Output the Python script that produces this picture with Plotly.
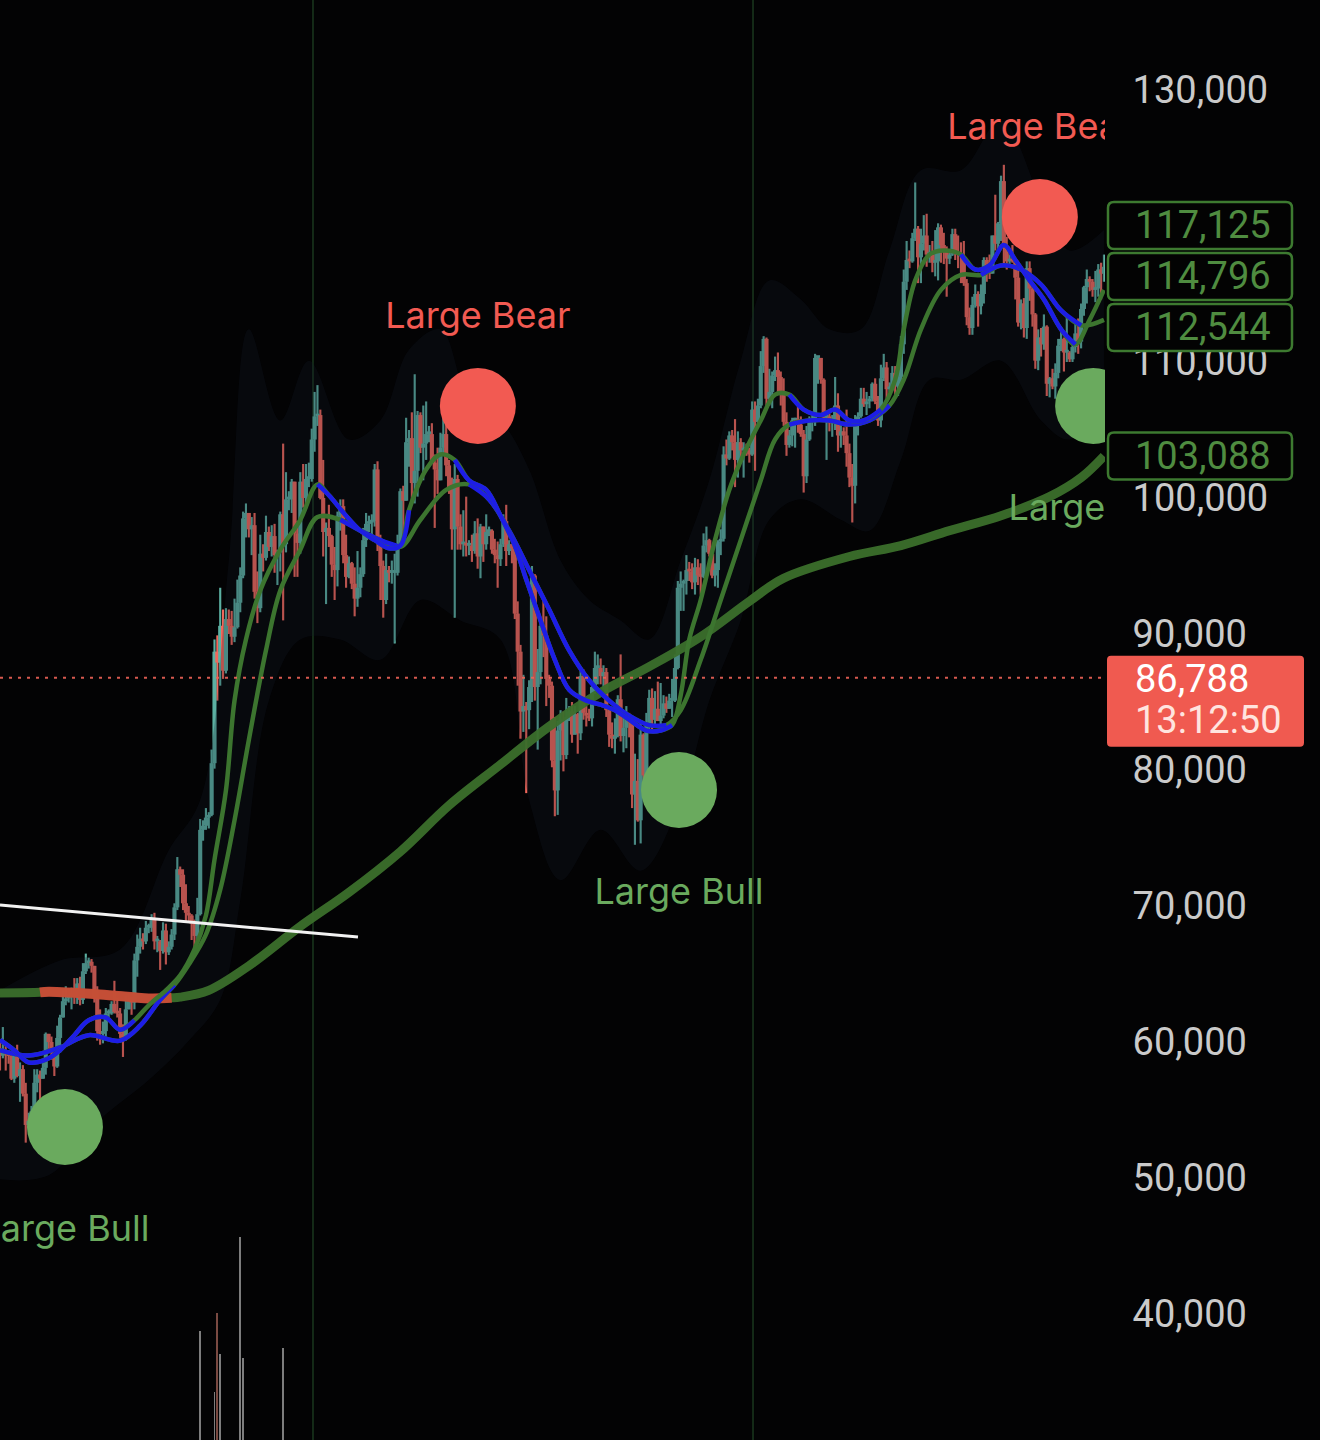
import numpy as np
import pandas as pd
import plotly.graph_objects as go

# ---------------- data (prices in thousands USD) ----------------
START = "2024-08-28"
FIRST_OPEN_K = 59.4

close_k = [
    59.0, 59.4, 59.1, 58.97,  # Aug 2024 (28-31)
    57.3, 59.1, 57.5, 58.0, 56.2, 53.9, 54.2, 54.9, 57.0, 57.6, 57.3, 58.1, 60.6, 60.0, 59.2, 58.2, 60.3, 61.8, 63.0, 63.2,
    63.4, 63.6, 63.3, 64.3, 63.1, 65.2, 65.8, 65.9, 65.6, 63.3,  # Sep
    60.8, 60.6, 60.8, 62.1, 62.1, 62.8, 62.2, 62.1, 60.6, 60.3, 62.4, 63.2, 62.9, 66.0, 67.0, 67.6, 67.4, 68.4, 68.4, 69.0,
    67.4, 67.4, 66.7, 68.2, 66.6, 67.0, 67.9, 69.9, 72.7, 72.3, 70.2,  # Oct
    69.5, 69.3, 68.7, 67.8, 69.4, 75.6, 75.9, 76.5, 76.7, 80.5, 88.7, 87.9, 90.6, 87.3, 91.1, 90.6, 89.8, 90.5, 92.3, 94.3,
    98.5, 98.9, 97.7, 98.0, 93.1, 91.9, 95.9, 95.6, 97.5, 96.4,  # Nov
    97.2, 95.8, 96.0, 98.8, 96.6, 99.9, 99.9, 101.2, 97.4, 96.7, 101.2, 100.0, 101.4, 101.4, 104.3, 106.0, 106.1, 100.0, 97.5, 97.8,
    97.2, 95.1, 94.7, 98.7, 99.4, 95.8, 94.2, 95.2, 93.7, 92.6, 93.4,  # Dec
    94.4, 96.9, 98.1, 98.2, 98.3, 102.1, 96.9, 95.0, 92.5, 94.7, 94.5, 94.5, 94.5, 96.5, 100.5, 99.8, 104.1, 104.4, 101.1, 102.0,
    106.1, 103.7, 104.0, 104.7, 104.7, 102.6, 102.1, 101.3, 103.7, 104.7, 102.4,  # Jan 2025
    100.6, 97.7, 101.4, 97.9, 96.6, 96.6, 96.5, 96.5, 96.1, 97.4, 95.7, 97.9, 96.6, 97.5, 97.6, 96.2, 95.8, 95.5, 96.6, 98.3,
    96.1, 96.6, 96.3, 91.5, 88.7, 84.3, 84.7, 84.4,  # Feb
    86.1, 94.3, 86.1, 87.2, 90.6, 89.9, 86.7, 86.2, 80.7, 78.5, 82.9, 83.7, 81.1, 83.9, 84.3, 82.6, 84.1, 82.7, 86.9, 84.2,
    84.0, 83.8, 86.1, 87.5, 87.5, 86.9, 87.2, 84.4, 82.6, 82.3, 82.5,  # Mar
    85.2, 82.5, 83.1, 83.8, 83.5, 78.2, 79.2, 76.3, 82.6, 79.6, 83.4, 85.3, 83.7, 84.5, 83.6, 84.0, 84.9, 84.5, 85.1, 85.1,
    87.5, 93.4, 93.7, 93.9, 94.7, 94.6, 93.8, 94.9, 94.3, 94.2,  # Apr
    96.5, 96.9, 95.9, 94.3, 94.7, 96.8, 97.0, 103.2, 102.9, 104.6, 104.1, 102.8, 104.1, 103.5, 103.7, 103.5, 103.2, 106.5, 105.6, 106.8,
    109.7, 111.7, 107.3, 107.8, 109.0, 109.4, 108.9, 107.8, 105.6, 103.9, 104.6,  # May
    105.7, 105.8, 105.4, 104.7, 101.6, 104.3, 105.6, 105.7, 110.3, 110.3, 108.7, 105.9, 106.0, 105.5, 105.6, 106.8, 104.6, 104.9, 104.6, 103.3,
    101.5, 100.9, 105.6, 106.0, 107.3, 106.9, 107.1, 107.3, 108.4, 107.1,  # Jun
    105.7, 108.8, 109.6, 108.0, 108.2, 109.2, 108.2, 108.9, 111.3, 115.9, 117.5, 117.4, 119.1, 119.8, 117.7, 118.7, 119.3, 117.9, 117.9, 117.3,
    117.4, 119.9, 118.6, 118.3, 117.6, 117.9, 119.4, 118.0, 117.9, 117.8, 115.8,  # Jul
    113.3, 112.5, 114.2, 115.0, 114.1, 115.0, 117.5, 116.7, 116.5, 119.3, 118.7, 120.2, 123.3, 118.4, 117.4, 117.5, 117.4, 116.2, 112.9, 114.3,
    112.5, 116.9, 115.4, 113.5, 110.1, 111.8, 111.3, 112.6, 108.4, 108.8, 108.2,  # Aug
    109.2, 111.2, 111.7, 110.7, 110.7, 110.2, 111.1, 112.1, 111.5, 113.9, 115.5, 116.1, 115.9, 115.3, 115.4, 116.8, 116.5, 117.0,  # Sep
]
high_k = [
    60.2, 61.1, 59.9, 59.4,
    59.1, 59.4, 59.8, 58.5, 58.3, 57.0, 54.8, 55.3, 58.0, 58.0, 57.9, 58.5, 60.7, 60.6, 60.4, 59.2, 61.2, 62.0, 63.8, 64.1,
    63.5, 64.0, 64.7, 64.7, 64.8, 65.8, 66.5, 66.2, 66.1, 65.6,
    64.1, 62.4, 61.5, 62.5, 62.4, 63.0, 64.5, 63.2, 62.5, 61.3, 63.4, 63.5, 63.3, 66.5, 67.9, 68.4, 68.0, 68.9, 68.7, 69.4,
    69.5, 67.8, 67.5, 68.8, 68.7, 67.4, 68.3, 70.2, 73.6, 72.9, 72.7,
    71.6, 70.0, 69.4, 69.0, 70.6, 76.4, 76.3, 77.2, 76.9, 81.5, 89.6, 89.9, 93.4, 91.8, 91.9, 91.8, 91.7, 92.6, 94.0, 94.9,
    99.0, 99.6, 98.7, 98.6, 98.9, 94.6, 97.3, 96.6, 98.7, 97.9,
    98.0, 98.1, 96.2, 99.0, 104.0, 101.9, 100.5, 101.4, 101.2, 98.3, 101.9, 102.5, 102.5, 102.6, 105.1, 107.8, 108.3, 106.5, 102.8, 98.2,
    99.5, 97.3, 96.4, 99.0, 99.9, 99.9, 97.3, 95.7, 95.3, 94.9, 96.1,
    94.9, 97.8, 98.9, 98.7, 98.8, 102.5, 102.7, 97.3, 95.4, 95.9, 95.0, 95.4, 95.9, 97.3, 100.7, 100.9, 105.9, 105.0, 106.3, 109.1,
    106.4, 106.3, 106.8, 107.1, 105.3, 105.5, 103.2, 103.7, 104.8, 106.4, 106.0,
    102.8, 101.5, 102.5, 101.7, 98.8, 99.1, 100.1, 96.9, 97.3, 98.3, 98.5, 98.1, 97.9, 98.8, 97.9, 97.7, 97.0, 96.8, 97.0, 98.8,
    99.5, 96.9, 96.6, 96.5, 92.4, 89.2, 87.0, 85.0,
    86.6, 95.0, 94.4, 88.9, 91.0, 92.8, 91.3, 87.0, 86.5, 83.9, 83.6, 84.4, 84.3, 85.3, 84.7, 85.0, 84.7, 84.2, 87.3, 87.4,
    84.7, 84.5, 86.2, 88.7, 88.5, 88.2, 87.7, 87.5, 84.6, 83.5, 83.8,
    85.5, 88.5, 83.9, 84.7, 84.2, 83.8, 81.2, 80.8, 83.5, 82.7, 84.2, 85.9, 86.0, 85.8, 86.5, 86.4, 85.5, 85.4, 85.6, 86.7,
    88.5, 93.9, 94.6, 94.0, 95.8, 95.3, 95.2, 95.6, 95.5, 95.2,
    97.4, 97.9, 97.0, 96.3, 95.2, 96.9, 97.7, 103.8, 104.3, 104.9, 105.0, 105.8, 104.9, 104.4, 104.1, 104.0, 103.7, 107.1, 107.1, 107.3,
    110.8, 111.9, 111.8, 109.5, 109.3, 110.4, 110.7, 109.3, 108.8, 106.3, 105.0,
    105.9, 105.9, 106.8, 106.0, 105.0, 105.3, 106.0, 106.3, 110.6, 110.4, 110.3, 108.8, 106.2, 106.2, 106.1, 108.9, 107.7, 105.5, 105.2, 106.5,
    104.0, 102.5, 106.1, 106.3, 108.1, 108.1, 107.8, 107.5, 108.5, 108.8,
    107.5, 109.8, 110.6, 110.0, 108.5, 109.7, 109.7, 109.2, 111.9, 116.8, 118.9, 118.2, 119.5, 123.2, 120.0, 119.8, 120.8, 120.9, 118.6, 118.9,
    119.7, 120.2, 120.1, 119.5, 118.5, 118.3, 119.8, 119.8, 119.3, 118.8, 118.9,
    116.1, 114.0, 114.8, 115.7, 115.2, 115.7, 117.7, 117.7, 117.9, 119.3, 122.3, 120.3, 123.7, 124.5, 119.2, 117.9, 118.6, 117.6, 116.8, 114.6,
    114.7, 117.4, 117.4, 115.6, 113.6, 112.4, 112.5, 113.5, 112.7, 108.9, 109.5,
    109.9, 111.7, 112.6, 111.8, 113.4, 110.8, 111.5, 112.8, 113.2, 114.3, 115.6, 116.8, 116.3, 116.1, 116.7, 117.2, 117.3, 117.9,
]
low_k = [
    57.9, 58.8, 57.9, 58.4,
    57.2, 57.0, 57.4, 55.6, 56.0, 52.6, 53.7, 54.0, 54.7, 56.3, 55.6, 57.3, 57.6, 59.5, 58.7, 57.5, 58.1, 59.2, 61.8, 62.7,
    62.9, 62.4, 62.8, 62.8, 62.7, 62.8, 65.0, 65.4, 65.1, 62.9,
    60.1, 59.8, 59.9, 60.4, 61.8, 62.0, 62.1, 61.8, 60.3, 58.9, 60.1, 62.4, 62.0, 62.4, 64.8, 66.5, 66.8, 67.2, 68.0, 68.1,
    66.8, 66.6, 65.3, 66.5, 65.7, 66.4, 66.8, 67.5, 69.7, 71.4, 69.7,
    68.8, 68.9, 67.5, 66.8, 67.5, 69.3, 74.8, 75.6, 75.7, 76.6, 80.1, 85.1, 86.2, 86.7, 87.1, 90.0, 89.2, 89.4, 90.4, 91.6,
    94.1, 97.1, 97.1, 95.8, 92.6, 90.8, 91.6, 94.6, 95.4, 96.1,
    95.7, 94.5, 93.6, 94.6, 91.0, 96.0, 99.1, 98.9, 94.2, 94.2, 95.9, 99.3, 99.2, 100.8, 101.2, 103.4, 105.3, 99.9, 95.7, 92.2,
    96.4, 94.2, 92.5, 93.5, 97.6, 95.2, 93.4, 94.1, 93.3, 91.3, 92.0,
    92.7, 94.2, 96.4, 97.5, 97.3, 97.9, 96.1, 92.5, 91.2, 92.2, 93.8, 93.7, 89.3, 94.3, 96.5, 97.3, 99.9, 102.3, 99.5, 99.6,
    100.1, 103.3, 101.3, 102.8, 104.1, 102.5, 97.8, 100.3, 101.3, 103.3, 101.6,
    100.3, 96.2, 91.2, 96.2, 96.2, 95.7, 95.7, 95.8, 95.3, 95.9, 94.8, 94.1, 95.3, 96.2, 97.2, 95.9, 95.2, 93.4, 95.0, 96.4,
    95.0, 95.8, 95.2, 91.1, 86.2, 82.3, 82.8, 78.3,
    83.0, 85.0, 85.1, 81.5, 86.3, 88.3, 84.7, 85.3, 80.2, 76.6, 76.7, 80.7, 79.9, 80.8, 83.6, 82.0, 82.6, 81.2, 82.2, 83.7,
    83.2, 83.6, 83.2, 85.6, 86.3, 86.3, 85.9, 83.9, 81.7, 81.6, 81.2,
    82.4, 82.1, 81.3, 81.6, 82.4, 77.2, 74.5, 76.2, 74.6, 78.4, 78.9, 82.8, 83.0, 83.2, 83.6, 83.1, 83.8, 84.2, 84.5, 83.9,
    85.0, 87.4, 91.7, 91.7, 92.9, 93.9, 93.3, 92.9, 93.6, 92.9,
    94.1, 96.0, 95.7, 94.1, 93.5, 93.4, 95.8, 96.8, 102.4, 102.8, 103.5, 100.8, 101.5, 102.6, 101.5, 103.1, 102.6, 103.1, 102.0, 105.2,
    106.6, 109.2, 106.8, 106.8, 106.6, 108.6, 107.6, 106.8, 105.3, 103.1, 103.7,
    103.8, 103.7, 104.8, 104.5, 100.4, 101.1, 104.2, 104.9, 105.3, 108.4, 108.4, 105.6, 102.8, 104.9, 104.5, 105.0, 103.4, 103.7, 103.9, 102.3,
    100.8, 98.2, 99.6, 104.6, 105.9, 106.7, 106.1, 106.6, 107.1, 106.9,
    105.3, 105.2, 108.6, 107.3, 107.8, 107.9, 107.5, 107.5, 108.3, 110.6, 115.3, 116.9, 117.3, 118.9, 115.8, 115.8, 118.2, 117.0, 117.3, 116.6,
    116.3, 116.0, 117.3, 117.2, 114.8, 117.2, 117.8, 117.5, 116.9, 115.8, 115.6,
    112.7, 112.0, 112.0, 114.0, 112.6, 113.5, 114.3, 115.9, 116.1, 116.5, 118.2, 118.2, 118.9, 117.2, 116.8, 117.2, 117.3, 114.6, 112.6, 112.4,
    111.8, 111.7, 114.5, 112.6, 109.5, 109.4, 110.4, 110.9, 107.5, 107.4, 108.0,
    107.3, 108.8, 110.8, 109.3, 110.0, 110.0, 110.0, 110.7, 110.6, 111.0, 113.4, 114.3, 115.2, 114.8, 114.4, 114.8, 114.6, 115.9,
]

# long moving average (read at sample days from START), thousands
ma200_day = [0, 14, 17, 35, 52, 60, 63, 73, 87, 105, 122, 140, 157, 175, 192, 210, 227, 245, 262, 274, 297, 315, 332, 350, 367, 378, 386]
ma200_k = [63.6, 63.65, 63.7, 63.5, 63.2, 63.25, 63.3, 63.8, 65.6, 68.5, 71.0, 74.0, 77.4, 80.4, 83.2, 85.7, 87.6, 89.8, 92.4, 94.1,
           95.7, 96.5, 97.6, 98.7, 100.1, 101.5, 103.09]
ma200_red_span = (14, 60)

fast_day = [0, 5, 10, 16, 21, 26, 31, 37, 42, 47, 52, 58, 63, 68, 72, 75, 79, 82, 86, 91, 98, 105, 111, 115, 121, 126, 131, 136, 140, 143,
            149, 154, 159, 164, 170, 175, 180, 184, 189, 194, 199, 205, 210, 215, 220, 226, 231, 235, 238, 241, 245, 250, 255, 260, 266,
            271, 276, 281, 287, 292, 297, 302, 308, 313, 316, 320, 325, 330, 336, 341, 346, 351, 355, 360, 365, 371, 376, 381, 386]
fast_k = [60.15, 59.4, 58.5, 58.7, 59.4, 60.5, 61.6, 61.8, 60.9, 61.6, 62.7, 63.8, 64.9, 66.8, 69.3, 73.4, 78.5, 85.1, 89.6, 93.2,
          96.2, 98.4, 101.0, 100.2, 98.7, 97.6, 96.9, 96.3, 96.5, 99.1, 102.1, 103.2, 102.8, 101.3, 100.6, 98.7, 96.5, 94.0, 91.0, 88.1,
          85.9, 85.1, 84.8, 84.4, 83.7, 82.9, 82.9, 83.3, 85.5, 89.6, 92.5, 96.9, 100.6, 103.2, 105.7, 107.6, 107.6, 106.5, 106.1, 106.5,
          105.7, 105.7, 106.5, 108.7, 112.4, 116.0, 117.9, 118.2, 117.9, 116.8, 117.1, 118.6, 117.5, 116.0, 114.6, 112.4, 111.3, 113.1, 115.3]
fast_blue_spans = [(0, 47), (111, 143), (159, 235), (276, 308), (336, 376)]

slow_day = [0, 10, 21, 31, 42, 49, 56, 61, 66, 72, 77, 82, 87, 93, 98, 105, 111, 119, 126, 133, 140, 147, 156, 164, 171, 178, 185, 192,
            199, 206, 213, 220, 227, 233, 238, 245, 252, 259, 266, 271, 276, 283, 290, 297, 304, 311, 316, 322, 329, 336, 343, 350, 357,
            364, 371, 378, 386]
slow_k = [59.4, 59.0, 59.6, 60.5, 60.1, 61.2, 63.1, 64.2, 65.7, 67.9, 71.2, 76.3, 82.2, 88.8, 93.2, 96.2, 98.6, 98.4, 97.6, 96.9,
          96.4, 98.4, 100.6, 101.0, 99.9, 97.6, 94.7, 91.8, 88.8, 86.6, 85.1, 84.0, 83.3, 83.3, 84.4, 88.1, 92.5, 96.9, 101.3, 104.3,
          105.4, 105.7, 105.7, 105.4, 105.7, 106.8, 108.7, 112.4, 115.3, 116.4, 116.4, 117.1, 116.8, 115.7, 113.8, 112.7, 113.1]
slow_blue_spans = [(0, 61), (119, 140), (164, 233), (276, 311), (343, 378)]

band_up_day = [0, 21, 42, 59, 70, 80, 87, 98, 108, 122, 133, 143, 154, 164, 175, 185, 196, 206, 217, 227, 238, 248, 259, 269, 280,
               290, 301, 311, 322, 336, 350, 364, 374, 386]
band_up_k = [63.8, 66.0, 66.8, 74.1, 77.8, 95.4, 112.4, 105.7, 110.1, 104.3, 105.7, 110.9, 112.4, 107.2, 105.7, 102.1, 95.4, 92.5,
             91.0, 89.6, 95.4, 101.3, 110.1, 116.0, 114.6, 112.4, 112.4, 118.2, 124.1, 124.1, 127.8, 121.9, 118.2, 119.7]
band_lo_day = [0, 17, 35, 52, 66, 77, 84, 94, 105, 119, 133, 147, 161, 175, 185, 196, 210, 224, 238, 248, 259, 269, 280, 294, 304,
               315, 325, 336, 350, 364, 374, 386]
band_lo_k = [49.9, 50.2, 54.3, 57.2, 60.1, 63.1, 70.4, 85.1, 89.6, 89.6, 88.1, 92.5, 91.0, 89.6, 77.8, 71.9, 75.6, 72.6, 77.8, 85.1,
             91.0, 98.4, 99.9, 98.4, 97.6, 102.8, 108.7, 108.7, 110.1, 105.7, 104.3, 107.2]

sig_time = ["2024-09-19 17:00", "2025-02-11 02:00", "2025-04-22 10:00", "2025-08-26 14:00", "2025-09-14 05:00"]
sig_price = [53750, 106770, 78530, 120660, 106770]
sig_kind = ["bull", "bear", "bull", "bear", "bull"]

trend_time = ["2024-08-28 00:00", "2024-12-31 04:00"]
trend_price = [70070, 67720]

sep_time = ["2024-12-15 10:30", "2025-05-18 07:00"]

vol_time = ["2024-11-06", "2024-11-11", "2024-11-12", "2024-11-13", "2024-11-20", "2024-11-21", "2024-12-05"]
vol_k = [109, 48, 127, 86, 203, 82, 92]
vol_down = [False, False, True, False, False, False, False]

tag_values = [117125, 114796, 112544, 103088]
last_price = 86788
countdown = "13:12:50"

# ---------------- styling / geometry ----------------
W, H = 1320, 1440
PLOT_W = 1105
Y_TOP, Y_BOT = 136617.6, 30735.3
X_RANGE = ["2024-08-28 00:00", "2025-09-18 08:40"]
BG = "#030304"
TEAL = "#5cb0a2"
RED = "#f2675b"
GREEN_MA = "#3b6f2c"
GREEN_EMA = "#3c752f"
BLUE = "#1d1de6"
BULL_C = "#6aaa5e"
BEAR_C = "#f25a52"
FONT = "Inter"
NUM_FONT = "Roboto"
DAY_MS = 86400000

t0 = pd.Timestamp(START)
def day2t(d):
    return [t0 + pd.Timedelta(days=float(x)) for x in d]

def val_per_px():
    return (Y_TOP - Y_BOT) / H

def ypx(v):
    return (Y_TOP - v) / val_per_px()

n = len(close_k)
assert len(high_k) == n and len(low_k) == n, (n, len(high_k), len(low_k))
dates = pd.date_range(START, periods=n, freq="D")
close = np.array(close_k) * 1000
open_ = np.concatenate([[FIRST_OPEN_K * 1000], close[:-1]])
high = np.maximum(np.array(high_k) * 1000, np.maximum(open_, close))
low = np.minimum(np.array(low_k) * 1000, np.minimum(open_, close))
colors = np.where(close >= open_, TEAL, RED)

fig = go.Figure()

# faint volatility cloud
fig.add_trace(go.Scatter(x=day2t(band_up_day), y=np.array(band_up_k) * 1000, mode="lines",
                         line=dict(width=0, shape="spline"), hoverinfo="skip"))
fig.add_trace(go.Scatter(x=day2t(band_lo_day), y=np.array(band_lo_k) * 1000, mode="lines",
                         line=dict(width=0, shape="spline"), fill="tonexty",
                         fillcolor="rgba(20,27,42,0.26)", hoverinfo="skip"))

# long MA
fig.add_trace(go.Scatter(x=day2t(ma200_day), y=np.array(ma200_k) * 1000, mode="lines",
                         line=dict(color=GREEN_MA, width=9, shape="spline"), opacity=0.95, hoverinfo="skip"))
sel = [i for i, d in enumerate(ma200_day) if ma200_red_span[0] <= d <= ma200_red_span[1]]
fig.add_trace(go.Scatter(x=day2t([ma200_day[i] for i in sel]), y=[ma200_k[i] * 1000 for i in sel], mode="lines",
                         line=dict(color="#d44c38", width=10, shape="spline"), opacity=0.9, hoverinfo="skip"))

# candles (wicks + bodies as bars on the price axis, coloured per candle)
fig.add_trace(go.Bar(x=dates, y=high - low, base=low, width=0.75 * DAY_MS,
                     marker=dict(color=colors, line=dict(width=0)), hoverinfo="skip"))
body = np.maximum(np.abs(close - open_), 200)
fig.add_trace(go.Bar(x=dates, y=body, base=np.minimum(open_, close), width=1.45 * DAY_MS,
                     marker=dict(color=colors, line=dict(width=0)), hoverinfo="skip"))

# EMAs (green, blue when bearish)
for days, vals, spans in [(slow_day, slow_k, slow_blue_spans), (fast_day, fast_k, fast_blue_spans)]:
    fig.add_trace(go.Scatter(x=day2t(days), y=np.array(vals) * 1000, mode="lines",
                             line=dict(color=GREEN_EMA, width=4.5, shape="spline"), hoverinfo="skip"))
    for a, b in spans:
        idx = [i for i, d in enumerate(days) if a <= d <= b]
        fig.add_trace(go.Scatter(x=day2t([days[i] for i in idx]), y=[vals[i] * 1000 for i in idx], mode="lines",
                                 line=dict(color=BLUE, width=4.5, shape="spline"), hoverinfo="skip"))

# trend line
fig.add_trace(go.Scatter(x=trend_time, y=trend_price, mode="lines", line=dict(color="#f2f2f2", width=3), hoverinfo="skip"))

# volume
fig.add_trace(go.Bar(x=vol_time, y=vol_k, yaxis="y2", width=0.35 * DAY_MS,
                     marker=dict(color=["#7a4a42" if d else "#7d7d7d" for d in vol_down], line=dict(width=0)),
                     hoverinfo="skip"))

# signal circles + labels
bull = [i for i, k in enumerate(sig_kind) if k == "bull"]
bear = [i for i, k in enumerate(sig_kind) if k == "bear"]
fig.add_trace(go.Scatter(x=[sig_time[i] for i in bull], y=[sig_price[i] for i in bull], mode="markers",
                         marker=dict(size=76, color=BULL_C, line=dict(width=0)), cliponaxis=True, hoverinfo="skip"))
fig.add_trace(go.Scatter(x=[sig_time[i] for i in bear], y=[sig_price[i] for i in bear], mode="markers",
                         marker=dict(size=76, color=BEAR_C, line=dict(width=0)), cliponaxis=True, hoverinfo="skip"))
fig.add_trace(go.Scatter(x=[sig_time[i] for i in bull], y=[sig_price[i] - 105 * val_per_px() for i in bull],
                         mode="text", text=["Large Bull"] * len(bull),
                         textfont=dict(family=FONT, size=36, color=BULL_C), cliponaxis=True, hoverinfo="skip"))
fig.add_trace(go.Scatter(x=[sig_time[i] for i in bear], y=[sig_price[i] + 87 * val_per_px() for i in bear],
                         mode="text", text=["Large Bear"] * len(bear),
                         textfont=dict(family=FONT, size=36, color=BEAR_C), cliponaxis=True, hoverinfo="skip"))

shapes = []
for t in sep_time:
    shapes.append(dict(type="line", xref="x", yref="paper", x0=t, x1=t, y0=0, y1=1,
                       line=dict(color="#142a17", width=2), layer="below"))
shapes.append(dict(type="line", xref="paper", yref="y", x0=0, x1=1, y0=last_price, y1=last_price,
                   line=dict(color="rgba(240,100,88,0.9)", width=2, dash="3px,6px"), layer="above"))

def P(x, y):
    return f"{x / PLOT_W:.5f},{1 - y / H:.5f}"

def rrect(x0, y0, x1, y1, r):
    return (f"M {P(x0 + r, y0)} L {P(x1 - r, y0)} Q {P(x1, y0)} {P(x1, y0 + r)} L {P(x1, y1 - r)} "
            f"Q {P(x1, y1)} {P(x1 - r, y1)} L {P(x0 + r, y1)} Q {P(x0, y1)} {P(x0, y1 - r)} "
            f"L {P(x0, y0 + r)} Q {P(x0, y0)} {P(x0 + r, y0)} Z")

annotations = []
LABEL_X = 1133 / PLOT_W
# stacked value tags
pitch = 51
centers = {}
prev = None
for v in sorted(tag_values):
    c = ypx(v)
    if prev is not None and c > prev - pitch:
        c = prev - pitch
    centers[v] = c
    prev = c
for v in tag_values:
    c = centers[v]
    shapes.append(dict(type="path", xref="paper", yref="paper", path=rrect(1108, c - 23.5, 1292, c + 23.5, 6),
                       fillcolor="#030303", line=dict(color="#3d7a30", width=2.5), layer="above"))
    annotations.append(dict(xref="paper", yref="paper", x=LABEL_X, y=1 - c / H, xanchor="left", yanchor="middle",
                            text=f"{v:,}", showarrow=False, font=dict(family=NUM_FONT, size=38, color="#4f8c40")))

# last price tag
pc = ypx(last_price)
shapes.append(dict(type="path", xref="paper", yref="paper", path=rrect(1107, pc - 22, 1304, pc + 69, 4),
                   fillcolor="#f05a50", line=dict(width=0), layer="above"))
annotations.append(dict(xref="paper", yref="paper", x=LABEL_X, y=1 - (pc + 1) / H, xanchor="left", yanchor="middle",
                        text=f"{last_price:,}", showarrow=False, font=dict(family=NUM_FONT, size=38, color="#ffffff")))
annotations.append(dict(xref="paper", yref="paper", x=LABEL_X, y=1 - (pc + 42) / H, xanchor="left", yanchor="middle",
                        text=countdown, showarrow=False, font=dict(family=NUM_FONT, size=38, color="#ffe4df")))

fig.update_layout(
    width=W, height=H,
    margin=dict(l=0, r=W - PLOT_W, t=0, b=0),
    paper_bgcolor=BG, plot_bgcolor=BG,
    showlegend=False, hovermode=False, barmode="overlay",
    xaxis=dict(type="date", range=X_RANGE, visible=False, fixedrange=True),
    yaxis=dict(side="right", range=[Y_BOT, Y_TOP], dtick=10000, tick0=0, tickformat=",d",
               showgrid=False, zeroline=False, showline=False, ticks="outside", ticklen=19,
               tickcolor="rgba(0,0,0,0)", tickfont=dict(family=NUM_FONT, size=38, color="#cacaca"), fixedrange=True),
    yaxis2=dict(overlaying="y", range=[0, H], visible=False, fixedrange=True),
    shapes=shapes, annotations=annotations,
)

fig.write_html("out.html", config={"displayModeBar": False},
               post_script="document.body.style.margin='0';document.body.style.background='#030304';")
